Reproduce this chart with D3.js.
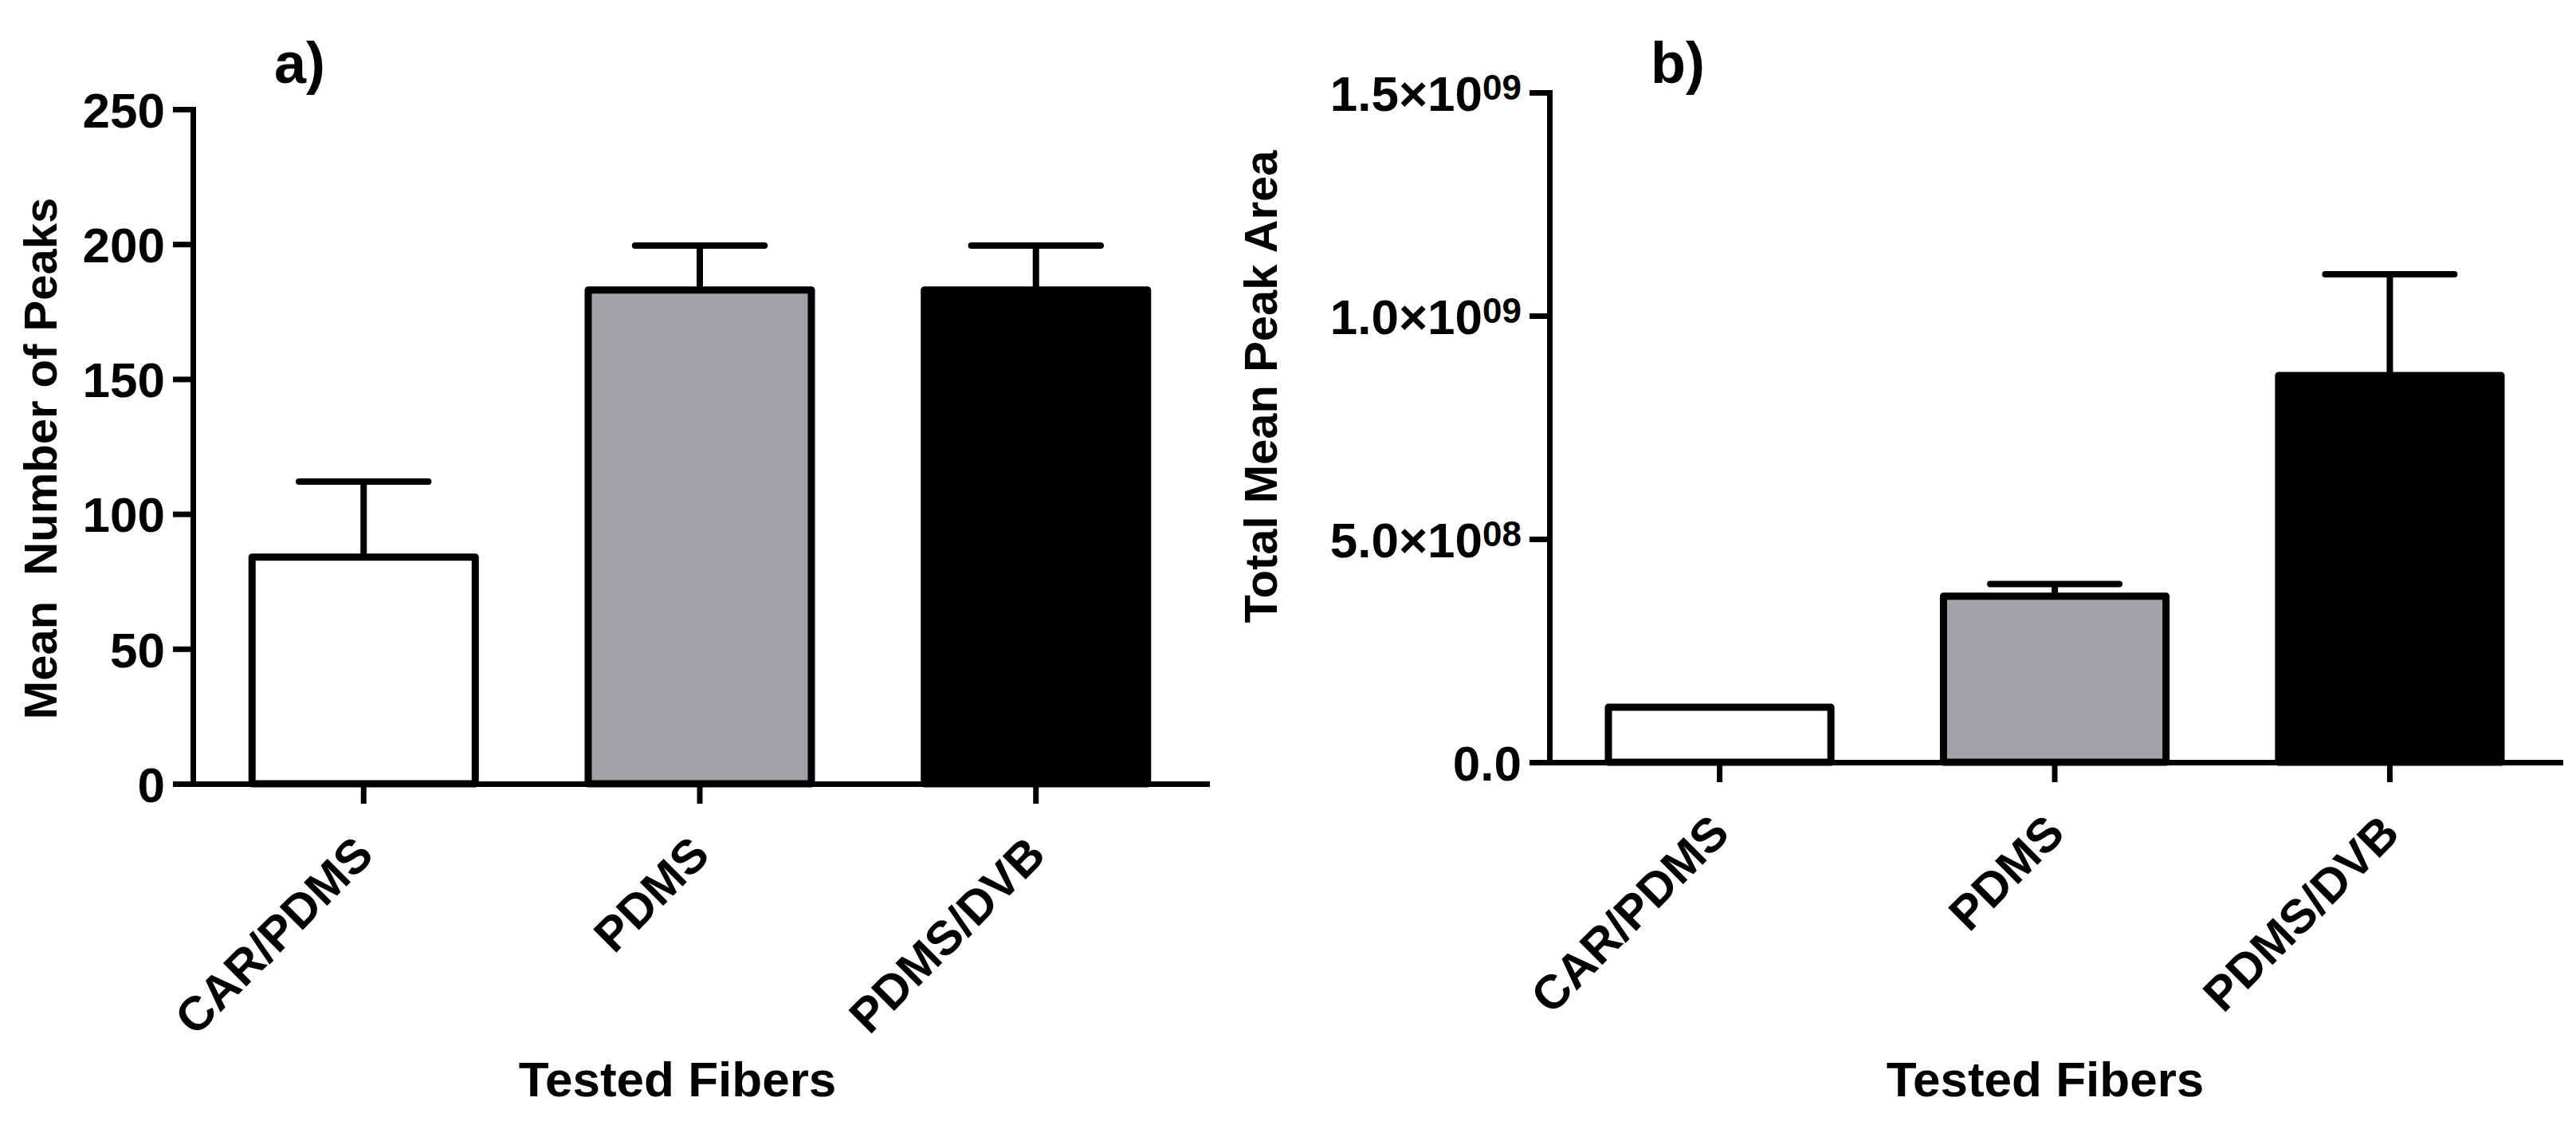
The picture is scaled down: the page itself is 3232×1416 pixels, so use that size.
<!DOCTYPE html>
<html lang="en">
<head>
  <meta charset="UTF-8">
  <title>Tested fibers - bar charts</title>
  <script src="https://d3js.org/d3.v7.min.js"></script>
  <style>
    body { margin: 0; background: #fff; }
    text { font-family: "Liberation Sans", Arial, sans-serif; font-weight: bold; fill: #000; }
  </style>
</head>
<body>
  <script>
    // data
    const fibers = ["CAR/PDMS", "PDMS", "PDMS/DVB"];
    const fills = ["#ffffff", "#a3a0a6", "#000000"];

    const peakMeans = [84, 183, 183];
    const peakSD = [28, 16.5, 16.5];
    const peakTicks = [0, 50, 100, 150, 200, 250];

    const areaMeans = [1.23e8, 3.72e8, 8.66e8];
    const areaSD = [0, 2.7e7, 2.27e8];
    const areaTicks = [0, 5e8, 1e9, 1.5e9];
    const areaTickBase = ["0.0", "5.0×10", "1.0×10", "1.5×10"];
    const areaTickExp = ["", "08", "09", "09"];

    const width = 3232;
    const height = 1416;

    const svg = d3.select("body")
      .append("svg")
      .attr("width", width)
      .attr("height", height);

    function drawPanel(opt) {
      const x = d3.scaleBand()
        .domain(fibers)
        .range([opt.left, opt.right])
        .paddingInner(0.336)
        .paddingOuter(0.176);

      const y = d3.scaleLinear()
        .domain([0, opt.max])
        .range([opt.bottom, opt.top]);

      // bars
      svg.append("g")
        .selectAll("rect")
        .data(fibers)
        .join("rect")
        .attr("x", d => x(d))
        .attr("y", (d, i) => y(opt.means[i]))
        .attr("width", x.bandwidth())
        .attr("height", (d, i) => y(0) - y(opt.means[i]))
        .attr("fill", (d, i) => fills[i])
        .attr("stroke", "#000")
        .attr("stroke-width", 9)
        .attr("stroke-linejoin", "round");

      // error bars (mean + SD only)
      const eb = svg.append("g")
        .attr("stroke", "#000")
        .attr("stroke-width", 8)
        .attr("stroke-linecap", "round");
      fibers.forEach((f, i) => {
        if (!opt.sd[i]) return;
        const cx = x(f) + x.bandwidth() / 2;
        const capW = x.bandwidth() * 0.58;
        const yTop = y(opt.means[i] + opt.sd[i]);
        eb.append("line")
          .attr("x1", cx).attr("x2", cx)
          .attr("y1", y(opt.means[i])).attr("y2", yTop)
          .attr("stroke-linecap", "butt");
        eb.append("line")
          .attr("x1", cx - capW / 2).attr("x2", cx + capW / 2)
          .attr("y1", yTop).attr("y2", yTop);
      });

      // y axis
      const yAxisG = svg.append("g")
        .attr("transform", `translate(${opt.left},0)`)
        .call(d3.axisLeft(y)
          .tickValues(opt.ticks)
          .tickSize(25)
          .tickSizeOuter(0)
          .tickPadding(10)
          .tickFormat((d, i) => opt.tickBase[i]));

      // x axis
      const xAxisG = svg.append("g")
        .attr("transform", `translate(0,${opt.bottom})`)
        .call(d3.axisBottom(x).tickSize(25).tickSizeOuter(0));

      [yAxisG, xAxisG].forEach(g => {
        g.attr("font-family", null).attr("font-size", null);
        g.select(".domain").attr("stroke-width", 7).attr("stroke-linecap", "square");
        g.selectAll(".tick line").attr("stroke-width", 7);
      });

      yAxisG.selectAll(".tick text")
        .attr("font-size", 62)
        .attr("dy", "0.36em")
        .each(function (d, i) {
          if (!opt.tickExp || !opt.tickExp[i]) return;
          d3.select(this).append("tspan")
            .attr("font-size", 44)
            .attr("dy", -14)
            .text(opt.tickExp[i]);
        });

      xAxisG.selectAll(".tick text")
        .attr("font-size", 60)
        .attr("x", 0)
        .attr("y", 0)
        .attr("dy", 0)
        .attr("text-anchor", "end")
        .attr("transform", "translate(15,92) rotate(-45)");

      // axis titles
      svg.append("text")
        .attr("transform", `translate(${opt.yLabelX},${opt.yLabelY}) rotate(-90)`)
        .attr("text-anchor", "middle")
        .attr("font-size", 58)
        .style("white-space", "pre")
        .text(opt.yLabel);

      svg.append("text")
        .attr("x", opt.xLabelX)
        .attr("y", 1375)
        .attr("text-anchor", "middle")
        .attr("font-size", 62)
        .text("Tested Fibers");

      // panel tag
      svg.append("text")
        .attr("x", opt.tagX)
        .attr("y", 104)
        .attr("font-size", 72)
        .text(opt.tag);
    }

    drawPanel({
      left: 242, right: 1514, top: 137, bottom: 983,
      max: 250, means: peakMeans, sd: peakSD,
      ticks: peakTicks, tickBase: peakTicks.map(String),
      yLabel: "Mean  Number of Peaks", yLabelX: 71, yLabelY: 575,
      xLabelX: 850, tag: "a)", tagX: 344
    });

    drawPanel({
      left: 1944, right: 3212, top: 116, bottom: 956,
      max: 1.5e9, means: areaMeans, sd: areaSD,
      ticks: areaTicks, tickBase: areaTickBase, tickExp: areaTickExp,
      yLabel: "Total Mean Peak Area", yLabelX: 1602, yLabelY: 485,
      xLabelX: 2566, tag: "b)", tagX: 2071
    });
  </script>
</body>
</html>
